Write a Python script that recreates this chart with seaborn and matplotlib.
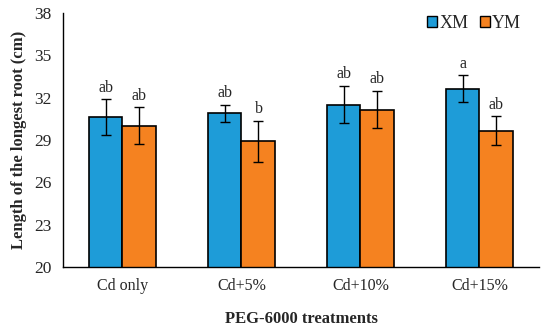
import pandas as pd
import matplotlib.pyplot as plt
import seaborn as sns

# Data
treatments = ['Cd only', 'Cd+5%', 'Cd+10%', 'Cd+15%']
xm_mean = [30.62, 30.90, 31.52, 32.63]
ym_mean = [30.00, 28.91, 31.16, 29.67]
xm_err = [1.28, 0.62, 1.33, 0.95]
ym_err = [1.31, 1.47, 1.34, 1.02]
xm_letters = ['ab', 'ab', 'ab', 'a']
ym_letters = ['ab', 'b', 'ab', 'ab']

df = pd.DataFrame({
    'Treatment': treatments * 2,
    'Cultivar': ['XM'] * 4 + ['YM'] * 4,
    'Length': xm_mean + ym_mean,
})

sns.set_style('white')
plt.rcParams['font.family'] = ['Liberation Serif', 'DejaVu Serif']

fig = plt.figure(figsize=(5.5, 3.28), dpi=100)
ax = fig.add_axes([0.1145, 0.186, 0.8655, 0.774])

sns.barplot(data=df, x='Treatment', y='Length', hue='Cultivar',
            palette=['#1E9CD8', '#F58220'], saturation=1, width=0.57,
            edgecolor='black', linewidth=1.2, ax=ax, errorbar=None)

# error bars and letters, placed on the drawn bars
bars = [p for p in ax.patches if p.get_height() > 0][:8]
errs = xm_err + ym_err
letters = xm_letters + ym_letters
for p, e, lab in zip(bars, errs, letters):
    cx = p.get_x() + p.get_width() / 2
    top = p.get_y() + p.get_height()
    ax.errorbar(cx, top, yerr=e, color='black', capsize=3.5,
                elinewidth=1, capthick=1)
    ax.text(cx, top + e + 0.25, lab, ha='center', va='bottom', fontsize=11.5)

ax.set_ylim(20, 38)
ax.set_yticks([20, 23, 26, 29, 32, 35, 38])
ax.set_xlim(-0.5, 3.5)
ax.set_xticks([-0.5, 0.5, 1.5, 2.5, 3.5], minor=False)
ax.set_xticklabels([])
ax.set_xticks(range(4), minor=True)
ax.set_xticklabels(treatments, minor=True)
ax.tick_params(axis='x', which='major', direction='out', length=5, width=1)
ax.tick_params(axis='x', which='minor', length=0, labelsize=11.5, pad=8)
ax.tick_params(axis='y', direction='out', length=5, width=1, labelsize=12.5)

for s in ['top', 'right']:
    ax.spines[s].set_visible(False)
for s in ['left', 'bottom']:
    ax.spines[s].set_color('black')
    ax.spines[s].set_linewidth(1)

ax.set_xlabel('PEG-6000 treatments', fontsize=12, fontweight='bold', labelpad=12)
ax.set_ylabel('Length of the longest root (cm)', fontsize=12, fontweight='bold', labelpad=5)

leg = ax.legend(loc='upper right', bbox_to_anchor=(0.978, 1.02), ncol=2,
                frameon=False, fontsize=13, handlelength=0.55, handleheight=0.55,
                handletextpad=0.15, columnspacing=0.6, borderaxespad=0)
for h in leg.legend_handles:
    h.set_linewidth(1)

plt.savefig('out.png', dpi=100)
